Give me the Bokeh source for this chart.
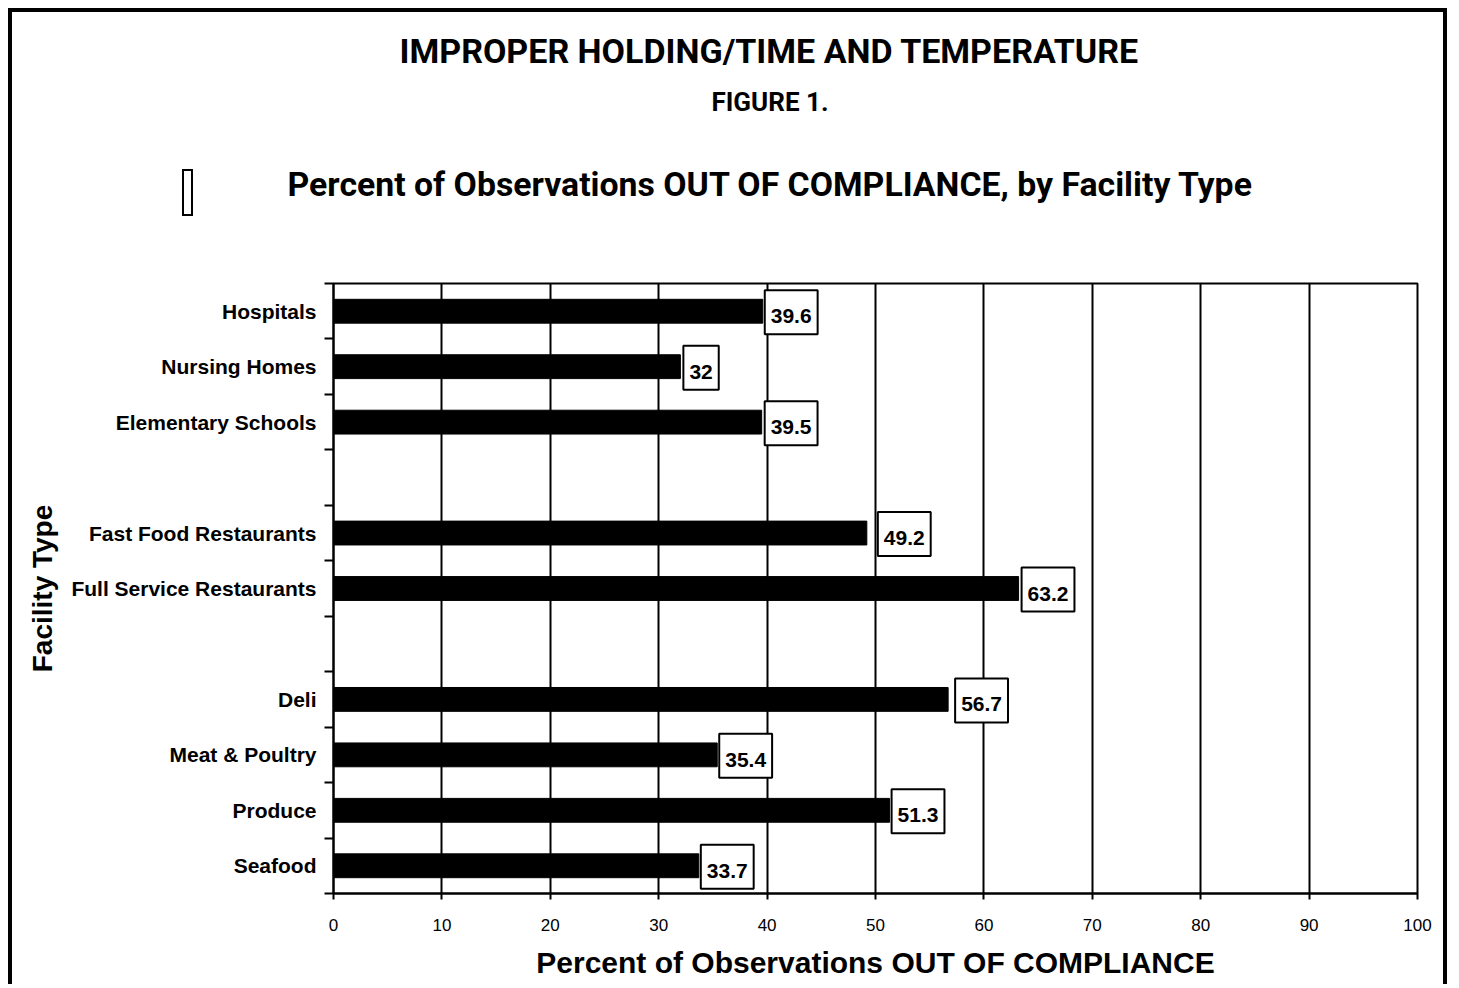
from bokeh.plotting import figure
from bokeh.models import (Range1d, FixedTicker, Label, Title, ColumnDataSource,
                          InlineStyleSheet)
from bokeh.embed import file_html
from bokeh.resources import INLINE

# ---------------- data ----------------
title_text = "IMPROPER HOLDING/TIME AND TEMPERATURE"
figure_text = "FIGURE 1."
subtitle_text = "Percent of Observations OUT OF COMPLIANCE, by Facility Type"
x_title = "Percent of Observations OUT OF COMPLIANCE"
y_title = "Facility Type"

institutional = ["Hospitals", "Nursing Homes", "Elementary Schools"]
institutional_values = [39.6, 32, 39.5]
restaurants = ["Fast Food Restaurants", "Full Service Restaurants"]
restaurant_values = [49.2, 63.2]
retail = ["Deli", "Meat & Poultry", "Produce", "Seafood"]
retail_values = [56.7, 35.4, 51.3, 33.7]

x_ticks = [0, 10, 20, 30, 40, 50, 60, 70, 80, 90, 100]

# manual label nudges (px), as in the original layout
label_nudge = [0, 1, 1, 9, 1, 5, 0, 0, 0]

# ---------------- layout ----------------
W, H = 1439, 976
ML, MR, MT, MB = 321, 34, 271, 95

TFONT = "Roboto"
SANS = "Liberation Sans"

groups = [(institutional, institutional_values),
          (restaurants, restaurant_values),
          (retail, retail_values)]
n_slots = sum(len(g[0]) for g in groups) + len(groups) - 1

names, vals, pos = [], [], []
slot = 0
for gi, (cats, vs) in enumerate(groups):
    if gi > 0:
        slot += 1
    for c, v in zip(cats, vs):
        names.append(c)
        vals.append(v)
        pos.append(n_slots - 0.5 - slot)
        slot += 1

source = ColumnDataSource(dict(y=pos, v=vals, name=names))

# page frame and the empty legend-key box of the original are drawn with CSS
frame_css = InlineStyleSheet(css="""
:host { position: relative; }
:host::after {
  content: ""; position: absolute; left: 170px; top: 157px;
  width: 11px; height: 47px; box-sizing: border-box;
  border: 2px solid black; background: white; z-index: 10; pointer-events: none;
}
""")

p = figure(width=W, height=H, x_range=Range1d(0, 100), y_range=Range1d(0, n_slots),
           output_backend="svg", toolbar_location=None,
           min_border_left=ML, min_border_right=MR, min_border_top=MT, min_border_bottom=MB)
p.styles = {"margin-left": "8px", "margin-top": "8px",
            "border-left": "4px solid black", "border-top": "4px solid black",
            "border-right": "4px solid black"}
p.stylesheets = [frame_css]
p.title.visible = False

p.background_fill_color = "white"
p.border_fill_color = "white"
p.outline_line_color = "black"
p.outline_line_width = 2

p.hbar(y="y", left=0, right="v", height=0.43, source=source,
       fill_color="black", line_color="black")

# x axis
p.xaxis.ticker = FixedTicker(ticks=x_ticks)
p.xaxis.axis_line_color = "black"
p.xaxis.axis_line_width = 2
p.xaxis.major_tick_line_color = "black"
p.xaxis.major_tick_line_width = 2
p.xaxis.major_tick_in = 0
p.xaxis.major_tick_out = 6
p.xaxis.minor_tick_line_color = None
p.xaxis.major_label_text_font = SANS
p.xaxis.major_label_text_font_size = "17px"
p.xaxis.major_label_text_color = "black"
p.xaxis.major_label_standoff = 19
p.xaxis.axis_label = x_title
p.xaxis.axis_label_text_font = SANS
p.xaxis.axis_label_text_font_size = "30px"
p.xaxis.axis_label_text_font_style = "bold"
p.xaxis.axis_label_text_color = "black"
p.xaxis.axis_label_standoff = 12

p.xgrid.ticker = FixedTicker(ticks=x_ticks)
p.xgrid.grid_line_color = "black"
p.xgrid.grid_line_width = 2
p.ygrid.grid_line_color = None

# y axis: labels at centres, ticks at slot boundaries
p.yaxis.ticker = FixedTicker(ticks=pos, minor_ticks=list(range(0, n_slots + 1)))
p.yaxis.major_label_overrides = {y: n for y, n in zip(pos, names)}
p.yaxis.axis_line_color = "black"
p.yaxis.axis_line_width = 2
p.yaxis.major_tick_line_color = None
p.yaxis.major_tick_in = 0
p.yaxis.major_tick_out = 9
p.yaxis.minor_tick_line_color = "black"
p.yaxis.minor_tick_line_width = 2
p.yaxis.minor_tick_in = 0
p.yaxis.minor_tick_out = 9
p.yaxis.major_label_text_font = SANS
p.yaxis.major_label_text_font_size = "21px"
p.yaxis.major_label_text_font_style = "bold"
p.yaxis.major_label_text_color = "black"
p.yaxis.major_label_standoff = 8
p.yaxis.axis_label = y_title
p.yaxis.axis_label_text_font = SANS
p.yaxis.axis_label_text_font_size = "28px"
p.yaxis.axis_label_text_font_style = "bold"
p.yaxis.axis_label_text_color = "black"
p.yaxis.axis_label_standoff = 10

# value labels in boxes
for v, y, dx in zip(vals, pos, label_nudge):
    p.add_layout(Label(x=v, y=y, x_offset=2 + dx, y_offset=-1, text=f"{v:g}",
                       text_font=SANS, text_font_size="21px", text_font_style="bold",
                       text_color="black", text_align="left", text_baseline="middle",
                       background_fill_color="white", border_line_color="black",
                       border_line_width=2,
                       padding=dict(left=6, right=6, top=19, bottom=11)))

# titles, stacked above (first added is nearest the frame)
def ttl(text, size, offset, standoff):
    return Title(text=text, align="left", offset=offset, standoff=standoff,
                 vertical_align="bottom",
                 text_font=TFONT, text_font_size=size, text_font_style="bold",
                 text_color="black")

# blank spacer row between the plot frame and the subtitle
p.add_layout(ttl(" ", "10px", 0, 31), "above")
p.add_layout(ttl(subtitle_text, "33.8px", -46, 70.5), "above")
p.add_layout(ttl(figure_text, "26px", 378, 22), "above")
p.add_layout(ttl(title_text, "34px", 66, 5), "above")

open("out.html", "w").write(file_html(p, INLINE))
